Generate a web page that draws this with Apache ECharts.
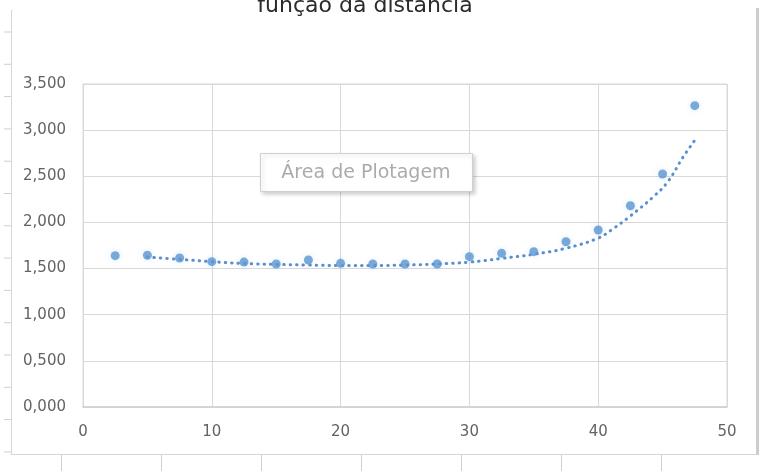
<!DOCTYPE html>
<html>
<head>
<meta charset="utf-8">
<script src="https://cdn.jsdelivr.net/npm/echarts@6/dist/echarts.min.js"></script>
<style>
  html, body { margin: 0; padding: 0; background: #fff; }
  #chart { width: 761px; height: 471px; }
</style>
</head>
<body>
<div id="chart"></div>
<script>
// valores
const distancias = [2.5, 5, 7.5, 10, 12.5, 15, 17.5, 20, 22.5, 25, 27.5, 30, 32.5, 35, 37.5, 40, 42.5, 45, 47.5]
const valores = [1.640, 1.644, 1.615, 1.575, 1.570, 1.550, 1.593, 1.557, 1.550, 1.550, 1.550, 1.629, 1.665, 1.683, 1.791, 1.918, 2.181, 2.525, 3.265]

// linha de tendência (pontilhada)
const tendenciaX = [5, 7.5, 10, 12.5, 15, 17.5, 20, 22.5, 25, 27.5, 30, 32.5, 35, 37.5, 40, 41.2, 42.5, 44.3, 45.4, 46.6, 47.5]
const tendenciaY = [1.625, 1.600, 1.575, 1.555, 1.545, 1.538, 1.533, 1.533, 1.538, 1.550, 1.570, 1.610, 1.655, 1.720, 1.830, 1.936, 2.070, 2.280, 2.440, 2.710, 2.890]

const yTicks = { min: 0, max: 3.5, interval: 0.5 }
const xTicks = { min: 0, max: 50, interval: 10 }

const titulo = 'função da distancia'
const rotulo = 'Área de Plotagem'

const chartDom = echarts.init(document.getElementById('chart'))

const fmt = v => v.toFixed(3).replace('.', ',')

// moldura decorativa (recorte do Excel)
const decor = []
decor.push({ type: 'line', shape: { x1: 11.5, y1: 10, x2: 11.5, y2: 455 }, style: { stroke: '#d6d6d6', lineWidth: 1 } })
for (let i = 0; i < 14; i++) {
	const y = 32 + i * 32.3
	decor.push({ type: 'line', shape: { x1: 4, y1: y, x2: 11, y2: y }, style: { stroke: '#cfcfcf', lineWidth: 1 } })
}
decor.push({ type: 'line', shape: { x1: 11, y1: 454.5, x2: 757, y2: 454.5 }, style: { stroke: '#d6d6d6', lineWidth: 1 } })
for (let i = 0; i < 7; i++) {
	const x = 61.5 + i * 100
	decor.push({ type: 'line', shape: { x1: x, y1: 455, x2: x, y2: 471 }, style: { stroke: '#cfcfcf', lineWidth: 1 } })
}
decor.push({ type: 'rect', shape: { x: 756, y: 8, width: 3, height: 447 }, style: { fill: '#cdcdcd' } })
decor.push({
	type: 'text', x: 365, y: 6,
	style: { text: titulo, fill: '#2b2b2b', font: '22px "DejaVu Sans"', align: 'center', verticalAlign: 'middle' }
})
decor.push({
	type: 'rect', z: 100, shape: { x: 260.5, y: 153.5, width: 212, height: 38 },
	style: { fill: '#fff', stroke: '#d0d0d0', lineWidth: 1, shadowBlur: 4, shadowOffsetX: 2, shadowOffsetY: 2, shadowColor: 'rgba(0,0,0,0.18)' }
})
decor.push({
	type: 'text', z: 101, x: 366, y: 173,
	style: { text: rotulo, fill: '#ababab', font: '19px "DejaVu Sans"', align: 'center', verticalAlign: 'middle' }
})

const option = {
	animation: false,
	backgroundColor: '#fff',
	grid: {
		left: 83, right: 34, top: 84, bottom: 64,
		show: true, borderColor: '#d9d9d9', borderWidth: 1
	},
	xAxis: {
		type: 'value',
		min: xTicks.min, max: xTicks.max, interval: xTicks.interval,
		axisLine: { show: true, lineStyle: { color: '#cfcfcf', width: 1.5 } },
		axisTick: { show: false },
		splitLine: { show: true, lineStyle: { color: '#d9d9d9' } },
		axisLabel: { color: '#636363', fontSize: 15, fontFamily: 'DejaVu Sans', margin: 18 }
	},
	yAxis: {
		type: 'value',
		min: yTicks.min, max: yTicks.max, interval: yTicks.interval,
		axisLine: { show: true, lineStyle: { color: '#d9d9d9' } },
		axisTick: { show: false },
		splitLine: { show: true, lineStyle: { color: '#d9d9d9' } },
		axisLabel: { color: '#636363', fontSize: 15, fontFamily: 'DejaVu Sans', margin: 17, formatter: fmt }
	},
	series: [
		{
			name: 'tendência',
			type: 'line',
			data: tendenciaX.map((x, i) => [x, tendenciaY[i]]),
			smooth: 0.4,
			symbol: 'none',
			lineStyle: { color: '#5b8fcf', width: 3, type: [0.5, 6], cap: 'round' },
			z: 2
		},
		{
			name: 'valores',
			type: 'scatter',
			data: distancias.map((x, i) => [x, valores[i]]),
			symbol: 'circle',
			symbolSize: 9,
			itemStyle: { color: '#5a96d0', shadowBlur: 6, shadowColor: 'rgba(91,155,213,0.25)' },
			z: 3
		}
	],
	graphic: decor
}

chartDom.setOption(option, true)
</script>
</body>
</html>
